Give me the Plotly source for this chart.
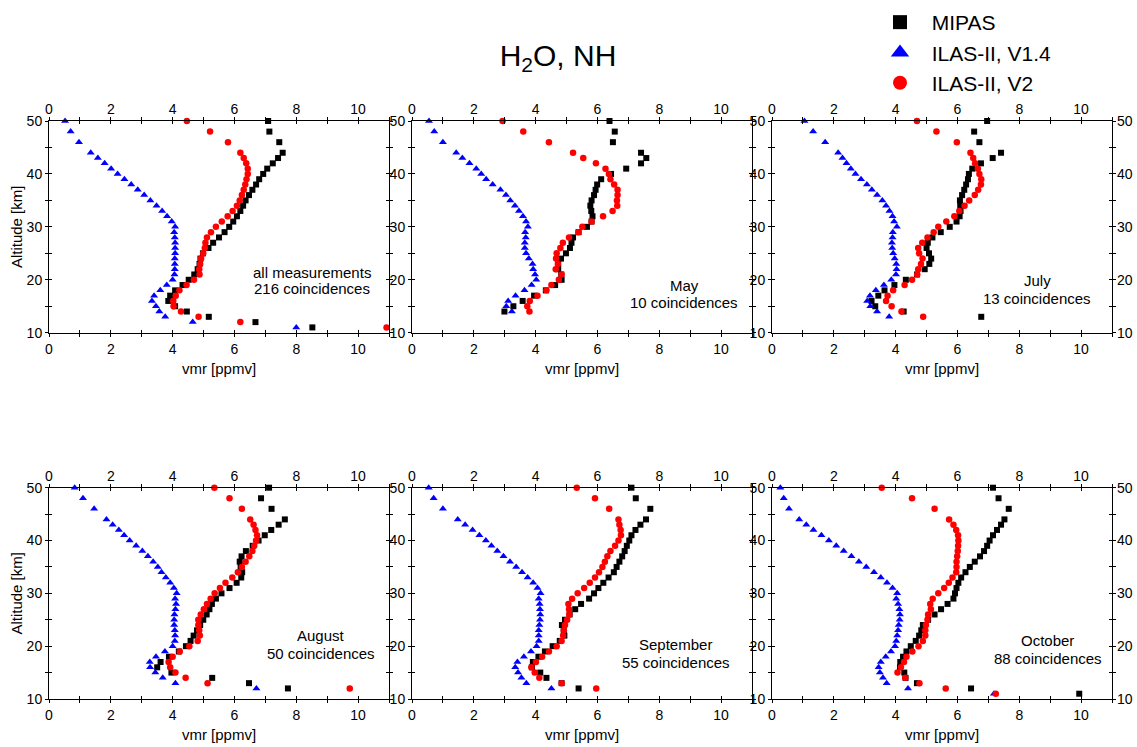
import plotly.graph_objects as go

# ---------------- data ----------------
ALT_TO_11 = [50, 48, 46, 44, 43, 42, 41, 40, 39, 38, 37, 36, 35, 34, 33, 32, 31, 30,
             29, 28, 27, 26, 25, 24, 23, 22, 21, 20, 19, 18, 17, 16, 15, 14, 13, 12, 11]
ALT_TO_12 = [50, 48, 46, 44, 43, 42, 41, 40, 39, 38, 37, 36, 35, 34, 33, 32, 31, 30,
             29, 28, 27, 26, 25, 24, 23, 22, 21, 20, 19, 18, 17, 16, 15, 14, 13, 12]
ALT_TO_13 = [50, 48, 46, 44, 43, 42, 41, 40, 39, 38, 37, 36, 35, 34, 33, 32, 31, 30,
             29, 28, 27, 26, 25, 24, 23, 22, 21, 20, 19, 18, 17, 16, 15, 14, 13]
ALT_TO_14 = [50, 48, 46, 44, 43, 42, 41, 40, 39, 38, 37, 36, 35, 34, 33, 32, 31, 30,
             29, 28, 27, 26, 25, 24, 23, 22, 21, 20, 19, 18, 17, 16, 15, 14]

# all measurements
all_mipas = [7.09, 7.13, 7.45, 7.56, 7.41, 7.24, 7.06, 6.93, 6.80, 6.70, 6.58, 6.47, 6.36, 6.28, 6.19, 6.08, 5.96, 5.83,
             5.68, 5.50, 5.31, 5.16, 4.98, 4.90, 4.87, 4.81, 4.70, 4.52, 4.32, 4.08, 3.92, 3.86, 4.08, 4.46, 5.17, 6.68, 8.52]
all_v14 = [0.52, 0.70, 0.97, 1.35, 1.58, 1.80, 2.01, 2.22, 2.44, 2.66, 2.87, 3.08, 3.28, 3.48, 3.66, 3.82, 3.97, 4.08,
           4.05, 4.07, 4.08, 4.08, 4.08, 4.07, 4.07, 4.07, 4.06, 4.00, 3.81, 3.60, 3.40, 3.33, 3.46, 3.57, 3.76, 4.65, 8.00]
all_v2 = [4.46, 5.21, 5.79, 6.19, 6.30, 6.38, 6.43, 6.43, 6.39, 6.35, 6.30, 6.24, 6.17, 6.08, 5.94, 5.78, 5.59, 5.40,
          5.24, 5.11, 5.06, 5.04, 4.99, 4.92, 4.89, 4.86, 4.87, 4.69, 4.45, 4.22, 4.10, 4.02, 4.03, 4.27, 4.84, 6.19, 10.92]

# May
may_mipas = [6.39, 6.56, 6.50, 7.41, 7.58, 7.41, 6.93, 6.44, 6.12, 5.99, 5.94, 5.89, 5.81, 5.77, 5.80, 5.84, 5.81, 5.66,
             5.39, 5.21, 5.16, 5.11, 4.98, 4.82, 4.73, 4.73, 4.83, 4.84, 4.63, 4.33, 3.95, 3.58, 3.28, 2.99]
may_v14 = [0.55, 0.72, 1.00, 1.43, 1.63, 1.86, 2.08, 2.24, 2.40, 2.61, 2.86, 3.04, 3.18, 3.33, 3.46, 3.59, 3.69, 3.75,
           3.66, 3.68, 3.65, 3.65, 3.69, 3.78, 3.90, 3.92, 3.98, 4.02, 3.87, 3.64, 3.35, 3.11, 3.05, 3.23]
may_v2 = [2.93, 3.60, 4.43, 5.21, 5.54, 5.95, 6.26, 6.37, 6.42, 6.54, 6.65, 6.65, 6.63, 6.64, 6.49, 6.18, 5.81, 5.51,
          5.38, 5.08, 4.88, 4.80, 4.68, 4.66, 4.72, 4.65, 4.84, 4.75, 4.51, 4.35, 4.06, 3.81, 3.73, 3.80]

# July
jul_mipas = [6.96, 6.54, 6.71, 7.41, 7.14, 6.76, 6.48, 6.37, 6.34, 6.28, 6.22, 6.15, 6.08, 6.09, 6.10, 6.07, 5.97, 5.75,
             5.46, 5.19, 5.04, 5.00, 5.08, 5.15, 5.09, 4.94, 4.69, 4.33, 3.96, 3.64, 3.44, 3.22, 3.34, 4.26, 6.77]
jul_v14 = [1.05, 1.33, 1.72, 2.14, 2.28, 2.41, 2.55, 2.70, 2.88, 3.07, 3.23, 3.40, 3.57, 3.69, 3.80, 3.90, 3.95, 4.04,
           3.91, 3.90, 3.88, 3.89, 3.92, 3.97, 4.02, 4.03, 4.01, 3.86, 3.62, 3.36, 3.17, 3.08, 3.18, 3.40, 3.79]
jul_v2 = [4.69, 5.32, 5.98, 6.42, 6.51, 6.57, 6.66, 6.71, 6.77, 6.76, 6.67, 6.56, 6.38, 6.23, 6.06, 5.90, 5.64, 5.38,
          5.23, 5.03, 4.86, 4.73, 4.76, 4.87, 4.82, 4.73, 4.70, 4.53, 4.29, 3.92, 3.74, 3.69, 3.87, 4.19, 4.89]

# August
aug_mipas = [7.12, 6.86, 7.20, 7.63, 7.43, 7.19, 6.98, 6.78, 6.59, 6.37, 6.23, 6.17, 6.20, 6.25, 6.22, 6.07, 5.84, 5.58,
             5.40, 5.27, 5.19, 5.10, 4.99, 4.89, 4.79, 4.68, 4.58, 4.43, 4.20, 3.88, 3.61, 3.50, 3.96, 5.28, 6.47, 7.73]
aug_v14 = [0.83, 1.10, 1.46, 1.86, 2.06, 2.26, 2.43, 2.61, 2.82, 3.02, 3.20, 3.37, 3.52, 3.64, 3.78, 3.92, 4.04, 4.13,
           4.08, 4.11, 4.09, 4.06, 4.05, 4.05, 4.07, 4.08, 4.07, 4.00, 3.75, 3.46, 3.26, 3.27, 3.44, 3.68, 4.09, 6.71]
aug_v2 = [5.35, 5.84, 6.24, 6.51, 6.62, 6.68, 6.73, 6.70, 6.64, 6.58, 6.48, 6.36, 6.24, 6.11, 5.93, 5.71, 5.53, 5.36,
          5.23, 5.11, 5.01, 4.91, 4.83, 4.83, 4.86, 4.88, 4.81, 4.54, 4.23, 4.00, 3.87, 3.92, 4.09, 4.42, 5.13, 9.73]

# September
sep_mipas = [7.10, 7.24, 7.71, 7.57, 7.39, 7.23, 7.10, 7.03, 6.95, 6.88, 6.80, 6.71, 6.62, 6.53, 6.36, 6.19, 6.03, 5.89,
             5.73, 5.47, 5.28, 5.10, 4.95, 4.85, 4.91, 4.93, 4.78, 4.55, 4.30, 4.09, 3.91, 3.88, 4.15, 4.35, 4.84, 5.39]
sep_v14 = [0.54, 0.70, 1.00, 1.48, 1.72, 1.96, 2.18, 2.39, 2.57, 2.76, 2.96, 3.17, 3.37, 3.56, 3.74, 3.92, 4.06, 4.16,
           4.10, 4.13, 4.14, 4.15, 4.14, 4.12, 4.10, 4.10, 4.10, 4.03, 3.85, 3.62, 3.41, 3.34, 3.43, 3.54, 3.70, 4.51]
sep_v2 = [5.33, 5.92, 6.38, 6.68, 6.71, 6.75, 6.76, 6.68, 6.57, 6.42, 6.32, 6.24, 6.16, 6.05, 5.92, 5.75, 5.57, 5.36,
          5.18, 5.06, 5.08, 5.09, 5.02, 4.95, 4.91, 4.89, 4.84, 4.68, 4.43, 4.21, 4.01, 3.86, 3.97, 4.12, 4.84, 5.96]

# October
oct_mipas = [7.15, 7.33, 7.66, 7.52, 7.41, 7.28, 7.15, 7.04, 6.96, 6.86, 6.73, 6.56, 6.40, 6.26, 6.12, 6.03, 5.97, 5.92,
             5.87, 5.68, 5.47, 5.26, 5.05, 4.88, 4.83, 4.76, 4.65, 4.49, 4.35, 4.24, 4.15, 4.14, 4.28, 4.32, 4.69, 6.44, 9.94]
oct_v14 = [0.27, 0.38, 0.55, 0.88, 1.11, 1.34, 1.60, 1.84, 2.08, 2.32, 2.57, 2.81, 3.05, 3.30, 3.52, 3.72, 3.90, 4.05,
           4.02, 4.08, 4.12, 4.14, 4.13, 4.10, 4.08, 4.05, 4.02, 3.98, 3.85, 3.68, 3.52, 3.45, 3.49, 3.59, 3.71, 4.40, 7.18]
oct_v2 = [3.55, 4.53, 5.26, 5.73, 5.87, 5.96, 6.02, 6.03, 6.02, 6.01, 5.99, 5.97, 5.97, 5.96, 5.84, 5.72, 5.57, 5.38,
          5.20, 5.12, 5.14, 5.05, 5.03, 4.98, 4.96, 4.96, 4.88, 4.74, 4.54, 4.35, 4.27, 4.17, 4.06, 4.31, 4.77, 5.62, 7.24]

panel_titles = ["all measurements", "May", "July", "August", "September", "October"]
panel_counts = ["216 coincidences", "10 coincidences", "13 coincidences",
                "50 coincidences", "55 coincidences", "88 coincidences"]
series_names = ["MIPAS", "ILAS-II, V1.4", "ILAS-II, V2"]
x_ticks = [0, 2, 4, 6, 8, 10]
y_ticks = [10, 20, 30, 40, 50]

panels = [
    (ALT_TO_11, all_mipas, all_v14, all_v2),
    (ALT_TO_14, may_mipas, may_v14, may_v2),
    (ALT_TO_13, jul_mipas, jul_v14, jul_v2),
    (ALT_TO_12, aug_mipas, aug_v14, aug_v2),
    (ALT_TO_12, sep_mipas, sep_v14, sep_v2),
    (ALT_TO_11, oct_mipas, oct_v14, oct_v2),
]

# ---------------- styling ----------------
W, H = 1137, 747
FONT = "Liberation Sans, Arial, sans-serif"
TICKFONT = dict(family=FONT, size=14, color="black")
COLORS = ["#000000", "#0000ff", "#ff0000"]
SYMBOLS = ["square", "triangle-up", "circle"]
SIZES = [6, 7, 6.5]

XD = [[49 / W, 389 / W], [412 / W, 752 / W], [772 / W, 1112 / W]]
YD = [[1 - 332.7 / H, 1 - 121 / H], [1 - 699 / H, 1 - 487.7 / H]]

# annotation centers (px)
ann_pos = [(311.7, 272, 289), (684, 285, 303), (1037, 280, 298),
           (321, 635, 653), (675.5, 644, 662), (1047.5, 640, 658)]

fig = go.Figure()
layout = dict(
    width=W, height=H,
    margin=dict(l=0, r=0, t=0, b=0),
    paper_bgcolor="white", plot_bgcolor="white",
    font=dict(family=FONT, color="black"),
    showlegend=True,
    annotations=[],
)

def xkey(n):
    return "xaxis" if n == 1 else f"xaxis{n}"

def ykey(n):
    return "yaxis" if n == 1 else f"yaxis{n}"

def xref(n):
    return "x" if n == 1 else f"x{n}"

def yref(n):
    return "y" if n == 1 else f"y{n}"

for i, (alt, mipas, v14, v2) in enumerate(panels):
    n = i + 1
    row, col = divmod(i, 3)
    for s, vals in enumerate([mipas, v14, v2]):
        fig.add_trace(go.Scatter(
            x=vals, y=alt, mode="markers", name=series_names[s], showlegend=False,
            marker=dict(symbol=SYMBOLS[s], size=SIZES[s], color=COLORS[s], line=dict(width=0)),
            xaxis=xref(n), yaxis=yref(n), cliponaxis=False, hoverinfo="x+y",
        ))
    # empty traces so that the overlay (top / right) axes get drawn
    fig.add_trace(go.Scatter(x=[None], y=[None], mode="markers", showlegend=False,
                             hoverinfo="skip", xaxis=xref(n + 6), yaxis=yref(n)))
    fig.add_trace(go.Scatter(x=[None], y=[None], mode="markers", showlegend=False,
                             hoverinfo="skip", xaxis=xref(n), yaxis=yref(n + 6)))
    common = dict(showgrid=False, zeroline=False, tickcolor="black", tickwidth=1,
                  ticklen=3, tickfont=TICKFONT, automargin=False, fixedrange=True)
    # main bottom x axis
    layout[xkey(n)] = dict(
        domain=XD[col], range=[0, 11], anchor=yref(n),
        tickmode="array", tickvals=x_ticks,
        showline=True, linecolor="black", linewidth=1, mirror="ticks", ticks="outside",
        minor=dict(dtick=1, tick0=0, ticks="outside", ticklen=3, tickcolor="black"),
        title=dict(text="vmr [ppmv]", font=dict(family=FONT, size=15, color="black"), standoff=7),
        **common)
    # main left y axis
    ydict = dict(
        domain=YD[row], range=[10, 50], anchor=xref(n),
        tickmode="array", tickvals=y_ticks,
        showline=True, linecolor="black", linewidth=1, mirror="ticks", ticks="outside",
        minor=dict(dtick=5, tick0=0, ticks="outside", ticklen=3, tickcolor="black"),
        **common)
    if col == 0:
        ydict["title"] = dict(text="Altitude [km]", font=dict(family=FONT, size=15, color="black"), standoff=0)
    layout[ykey(n)] = ydict
    # overlay top x axis (labels on top, inside ticks)
    layout[xkey(n + 6)] = dict(
        overlaying=xref(n), side="top", anchor=yref(n), range=[0, 11],
        tickmode="array", tickvals=x_ticks,
        showline=False, mirror="ticks", ticks="inside", ticklabelstandoff=3,
        minor=dict(dtick=1, tick0=0, ticks="inside", ticklen=3, tickcolor="black"),
        **common)
    # overlay right y axis
    layout[ykey(n + 6)] = dict(
        overlaying=yref(n), side="right", anchor=xref(n), range=[10, 50],
        tickmode="array", tickvals=y_ticks, showticklabels=(col == 2),
        showline=False, mirror="ticks", ticks="inside", ticklabelstandoff=4,
        minor=dict(dtick=5, tick0=0, ticks="inside", ticklen=3, tickcolor="black"),
        **common)
    ax, y1, y2 = ann_pos[i]
    for txt, yy in ((panel_titles[i], y1), (panel_counts[i], y2)):
        layout["annotations"].append(dict(
            text=txt, x=ax / W, y=1 - yy / H, xref="paper", yref="paper",
            xanchor="center", yanchor="middle", showarrow=False,
            font=dict(family=FONT, size=15, color="black")))

# legend-only traces (larger symbols, as in the reference legend)
LEG_SIZES = [14, 16, 14]
for s in range(3):
    fig.add_trace(go.Scatter(
        x=[None], y=[None], mode="markers", name="\u00a0\u00a0" + series_names[s],
        marker=dict(symbol=SYMBOLS[s], size=LEG_SIZES[s], color=COLORS[s]),
        xaxis="x", yaxis="y", showlegend=True, hoverinfo="skip"))

layout["legend"] = dict(
    x=880 / W, y=1 - 2 / H, xanchor="left", yanchor="top",
    font=dict(family=FONT, size=21, color="black"),
    bgcolor="rgba(0,0,0,0)", itemsizing="trace", tracegroupgap=0,
)
layout["title"] = dict(
    text="H<sub>2</sub>O, NH", x=558 / W, xanchor="center", y=1 - 55 / H, yanchor="middle",
    font=dict(family=FONT, size=30, color="black"))

fig.update_layout(**layout)
fig.write_html("out.html", config={"displayModeBar": False},
               post_script="document.body.style.margin='0';")
